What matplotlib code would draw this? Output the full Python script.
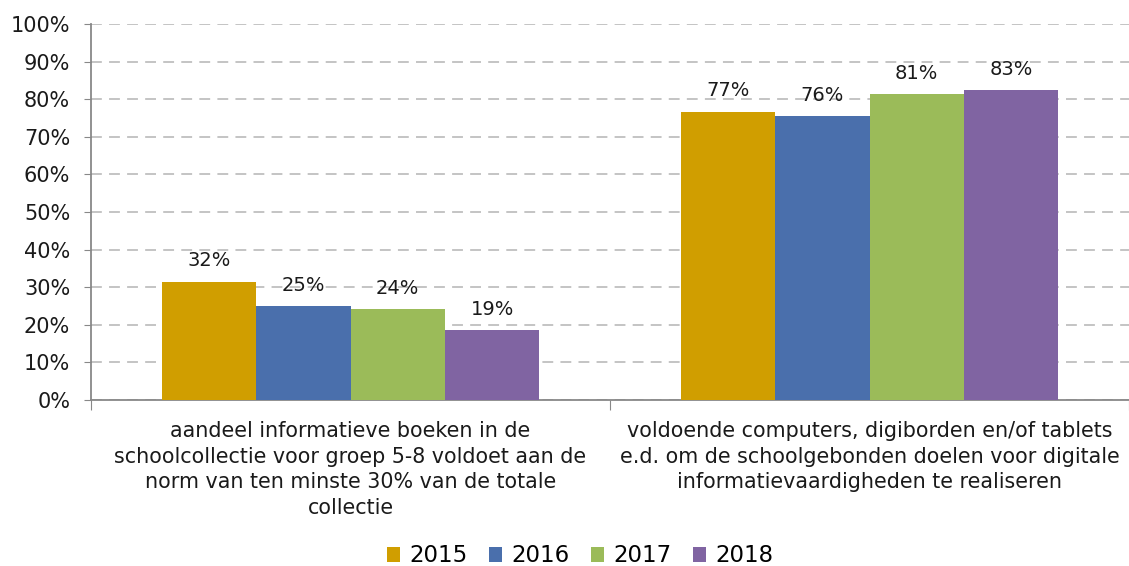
import matplotlib
matplotlib.use("Agg")
import matplotlib.pyplot as plt
import numpy as np

categories = [
    "aandeel informatieve boeken in de\nschoolcollectie voor groep 5-8 voldoet aan de\nnorm van ten minste 30% van de totale\ncollectie",
    "voldoende computers, digiborden en/of tablets\ne.d. om de schoolgebonden doelen voor digitale\ninformatievaardigheden te realiseren",
]
years = ["2015", "2016", "2017", "2018"]
values = {
    "2015": [31.5, 76.7],
    "2016": [24.9, 75.6],
    "2017": [24.1, 81.3],
    "2018": [18.5, 82.5],
}
labels = {
    "2015": ["32%", "77%"],
    "2016": ["25%", "76%"],
    "2017": ["24%", "81%"],
    "2018": ["19%", "83%"],
}
colors = ["#D09E00", "#4A6FAC", "#9BBB59", "#8064A2"]
yticks = [0, 10, 20, 30, 40, 50, 60, 70, 80, 90, 100]

plt.rcParams['font.family'] = ['DejaVu Sans']
fig = plt.figure(figsize=(11.29, 5.66), dpi=100)
ax = fig.add_axes([91/1129, 1-400/566, (1129-91)/1129, 376/566])

x = np.arange(len(categories))
bw = 0.728 / 4
for i, (yr, c) in enumerate(zip(years, colors)):
    pos = x - 0.364 + bw * (i + 0.5)
    bars = ax.bar(pos, values[yr], width=bw, color=c, label=yr, zorder=3)
    for b, lab in zip(bars, labels[yr]):
        ax.annotate(lab, (b.get_x() + b.get_width()/2, b.get_height()),
                    xytext=(0, 8), textcoords="offset points",
                    ha="center", va="bottom", fontsize=14, color="#1a1a1a")

ax.set_xlim(-0.5, 1.5)
ax.set_ylim(0, 100)
ax.set_yticks(yticks)
ax.set_yticklabels([f"{t}%" for t in yticks], fontsize=15, color="#1a1a1a")
ax.yaxis.grid(True, linestyle=(0, (6, 4)), color="#BFBFBF", linewidth=1.3, zorder=0)
ax.set_xticks([-0.5, 0.5, 1.5])
ax.set_xticklabels([])
ax.set_xticks(x, minor=True)
ax.set_xticklabels(categories, minor=True, fontsize=14.9, color="#1a1a1a", linespacing=1.36)
ax.tick_params(axis="x", which="minor", length=0, pad=15)
ax.tick_params(axis="x", which="major", length=7, color="#888888")
ax.tick_params(axis="y", length=5, color="#888888", pad=10)
for s in ["top", "right"]:
    ax.spines[s].set_visible(False)
for s in ["left", "bottom"]:
    ax.spines[s].set_color("#888888")
    ax.spines[s].set_linewidth(1.3)

fig.legend(loc="center", bbox_to_anchor=(580/1129, 1-556/566), ncol=4, frameon=False,
           fontsize=16.5, handlelength=0.58, handleheight=0.58, handletextpad=0.38,
           columnspacing=0.95)

fig.savefig("out.png", dpi=100)
